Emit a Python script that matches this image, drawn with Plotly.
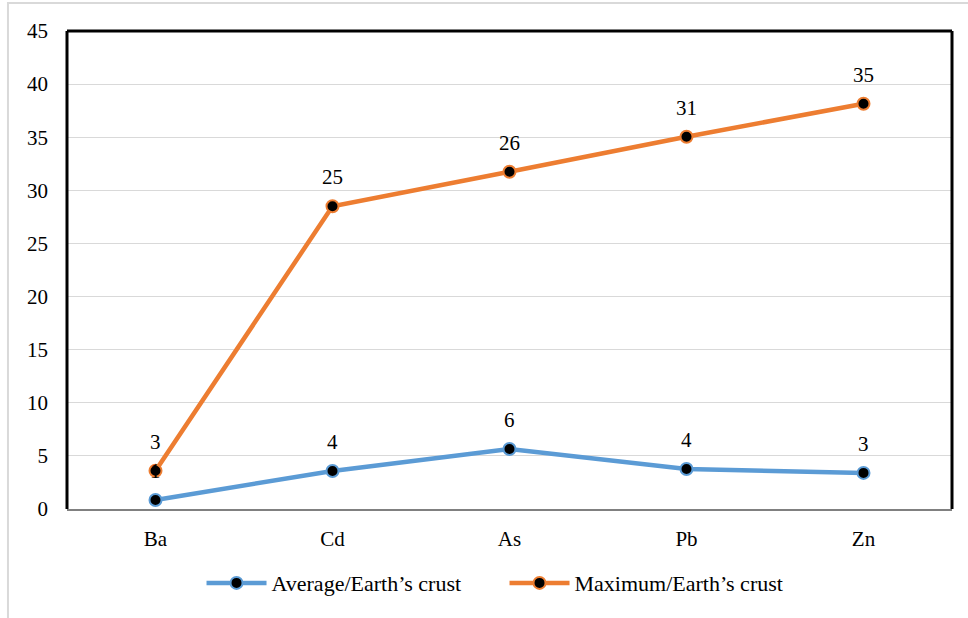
import plotly.graph_objects as go

# Elements along the x axis
elements = ["Ba", "Cd", "As", "Pb", "Zn"]

# Ratio to Earth's crust, per element
average_ratio = [0.85, 3.58, 5.65, 3.77, 3.4]
maximum_ratio = [3.6, 28.5, 31.75, 35.05, 38.15]

# Printed data labels
average_labels = ["1", "4", "6", "4", "3"]
maximum_labels = ["3", "25", "26", "31", "35"]

y_ticks = [0, 5, 10, 15, 20, 25, 30, 35, 40, 45]

BLUE = "#5B9BD5"
ORANGE = "#ED7D31"
FONT = "Liberation Serif, Times New Roman, serif"

fig = go.Figure()

fig.add_trace(go.Scatter(
    x=elements, y=average_ratio, mode="lines+markers",
    name="Average/Earth\u2019s crust",
    line=dict(color=BLUE, width=4.5),
    marker=dict(color="black", size=12, line=dict(color=BLUE, width=2)),
))
fig.add_trace(go.Scatter(
    x=elements, y=maximum_ratio, mode="lines+markers",
    name="Maximum/Earth\u2019s crust",
    line=dict(color=ORANGE, width=4.5),
    marker=dict(color="black", size=12, line=dict(color=ORANGE, width=2)),
))

annotations = []
for xs, ys, labels in [(elements, average_ratio, average_labels),
                       (elements, maximum_ratio, maximum_labels)]:
    for x, y, t in zip(xs, ys, labels):
        annotations.append(dict(
            x=x, y=y, text=t, showarrow=False, yshift=29,
            font=dict(family=FONT, size=21, color="#000000"),
        ))

shapes = [
    # outer chart border
    dict(type="rect", xref="paper", yref="paper",
         x0=-0.0667, x1=1.03, y0=-0.25, y1=1.0586,
         line=dict(color="#d9d9d9", width=2), layer="below"),
    # black frame: left, top, right
    dict(type="line", xref="paper", yref="paper", x0=0, x1=0, y0=0, y1=1,
         line=dict(color="black", width=3)),
    dict(type="line", xref="paper", yref="paper", x0=0, x1=1, y0=1, y1=1,
         line=dict(color="black", width=3)),
    dict(type="line", xref="paper", yref="paper", x0=1, x1=1, y0=0, y1=1,
         line=dict(color="black", width=3)),
]

fig.update_layout(
    width=968, height=618,
    margin=dict(l=67, r=16, t=31, b=109),
    paper_bgcolor="white", plot_bgcolor="white",
    font=dict(family=FONT, size=21, color="#000000"),
    showlegend=True,
    legend=dict(orientation="h", x=0.152, xanchor="left", y=-0.155,
                yanchor="middle", font=dict(family=FONT, size=22),
                itemwidth=60, entrywidth=228, entrywidthmode="pixels",
                traceorder="normal"),
    xaxis=dict(type="category", range=[-0.5, 4.5], showgrid=False,
               showline=True, linecolor="#808080", linewidth=2,
               ticks="", ticklabelstandoff=10, zeroline=False,
               tickfont=dict(family=FONT, size=21)),
    yaxis=dict(range=[0, 45], tickvals=y_ticks, showgrid=True,
               gridcolor="#d9d9d9", gridwidth=1, zeroline=False,
               showline=False, ticks="", ticklabelstandoff=18,
               tickfont=dict(family=FONT, size=21)),
    annotations=annotations,
    shapes=shapes,
)

fig.write_html("out.html")
